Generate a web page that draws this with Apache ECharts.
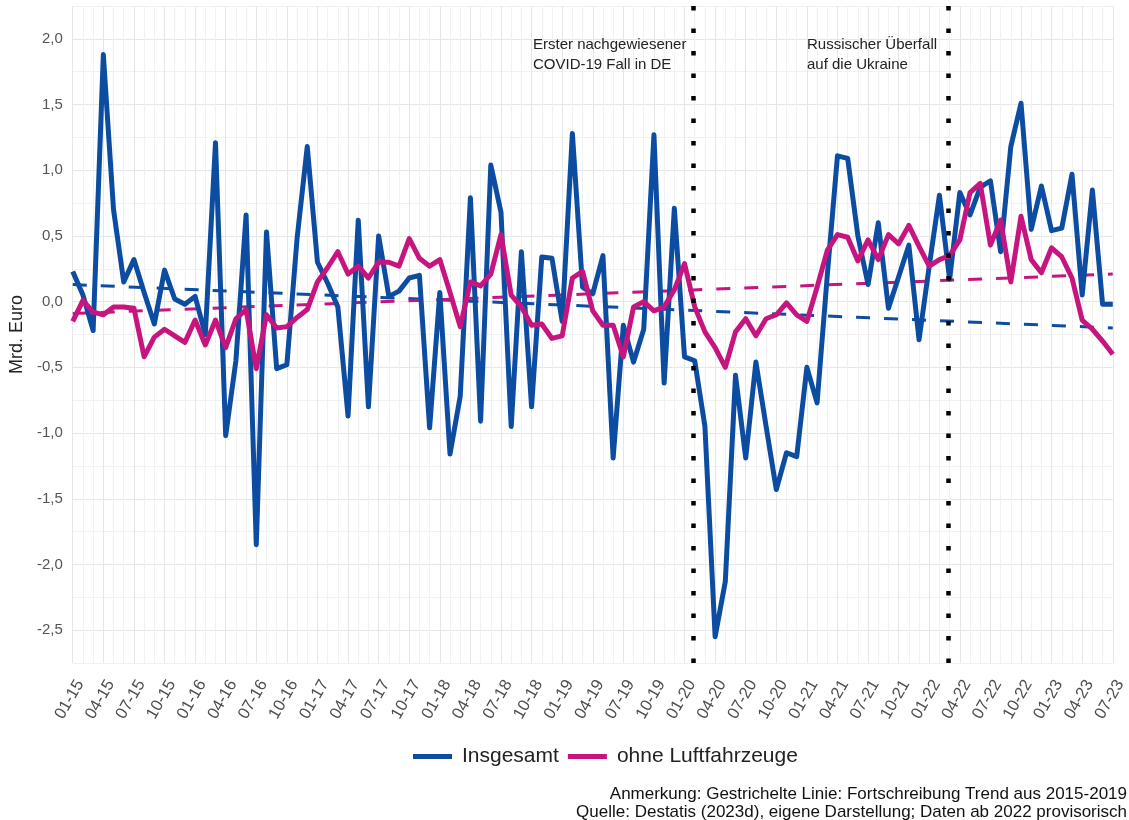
<!DOCTYPE html>
<html>
<head>
<meta charset="utf-8">
<script src="https://cdn.jsdelivr.net/npm/echarts@6/dist/echarts.min.js"></script>
<style>
  html, body { margin: 0; padding: 0; background: #fff; }
  #chart { width: 1129px; height: 820px; }
</style>
</head>
<body>
<div id="chart"></div>
<script>
// x-axis tick labels, one every three months (01-15 ... 07-23)
const tickLabels = [
  '01-15', '04-15', '07-15', '10-15', '01-16', '04-16', '07-16', '10-16',
  '01-17', '04-17', '07-17', '10-17', '01-18', '04-18', '07-18', '10-18',
  '01-19', '04-19', '07-19', '10-19', '01-20', '04-20', '07-20', '10-20',
  '01-21', '04-21', '07-21', '10-21', '01-22', '04-22', '07-22', '10-22',
  '01-23', '04-23', '07-23'
]

// monthly values Jan 2015 .. Jul 2023, Mrd. Euro
const insgesamt = [
  0.23, 0.05, -0.22, 1.88, 0.70, 0.15, 0.32, 0.07, -0.17, 0.24, 0.02, -0.02,
  0.04, -0.25, 1.21, -1.02, -0.45, 0.66, -1.85, 0.53, -0.51, -0.48, 0.48, 1.18,
  0.30, 0.14, -0.04, -0.87, 0.62, -0.80, 0.50, 0.04, 0.08, 0.18, 0.20, -0.96,
  0.07, -1.16, -0.72, 0.79, -0.91, 1.04, 0.68, -0.95, 0.38, -0.80, 0.34, 0.33,
  -0.15, 1.28, 0.11, 0.06, 0.35, -1.19, -0.18, -0.46, -0.21, 1.27, -0.62, 0.71,
  -0.42, -0.45, -0.95, -2.55, -2.13, -0.56, -1.19, -0.46, -0.95, -1.43, -1.15, -1.18,
  -0.50, -0.77, 0.20, 1.11, 1.09, 0.50, 0.13, 0.60, -0.05, 0.19, 0.43, -0.29,
  0.27, 0.81, 0.17, 0.83, 0.66, 0.87, 0.92, 0.38, 1.18, 1.51, 0.55, 0.88,
  0.54, 0.56, 0.97, 0.05, 0.85, -0.02, -0.02
]
const ohneLuftfahrzeuge = [
  -0.15, 0.01, -0.08, -0.10, -0.04, -0.04, -0.05, -0.42, -0.27, -0.21, -0.26, -0.31,
  -0.14, -0.33, -0.14, -0.35, -0.13, -0.06, -0.51, -0.10, -0.20, -0.19, -0.12, -0.06,
  0.15, 0.26, 0.38, 0.21, 0.27, 0.18, 0.30, 0.30, 0.27, 0.48, 0.33, 0.27,
  0.32, 0.07, -0.19, 0.15, 0.12, 0.21, 0.51, 0.05, -0.04, -0.18, -0.17, -0.28,
  -0.26, 0.18, 0.23, -0.07, -0.18, -0.18, -0.42, -0.04, 0.00, -0.07, -0.04, 0.09,
  0.29, -0.04, -0.23, -0.35, -0.50, -0.23, -0.13, -0.26, -0.13, -0.10, -0.01, -0.10,
  -0.15, 0.11, 0.39, 0.51, 0.49, 0.31, 0.47, 0.32, 0.51, 0.44, 0.58, 0.42,
  0.27, 0.32, 0.35, 0.47, 0.83, 0.90, 0.43, 0.62, 0.15, 0.65, 0.32, 0.22,
  0.41, 0.34, 0.18, -0.14, -0.21, -0.30, -0.40
]

// trend 2015-2019 carried forward: value at first and last month
const trendInsgesamt = [0.13, -0.20]
const trendOhne = [-0.09, 0.21]

// events: [year, month, day]
const eventCovid = [2020, 1, 27]
const eventUkraine = [2022, 2, 24]

const BLUE = '#0C4DA2'
const PINK = '#C7157F'
const FONT = 'Liberation Sans, Arial, sans-serif'

const lastIdx = insgesamt.length - 1
const toPairs = arr => arr.map((v, i) => [i, v])
const trendPairs = t => [[0, t[0]], [lastIdx, t[1]]]
function monthIndex(ev) {
  const days = new Date(ev[0], ev[1], 0).getDate()
  return (ev[0] - 2015) * 12 + (ev[1] - 1) + (ev[2] - 1) / days
}

const chart = echarts.init(document.getElementById('chart'))

chart.setOption({
  animation: false,
  textStyle: { fontFamily: FONT },
  grid: { left: 72, right: 14, top: 6, bottom: 157, containLabel: false },
  xAxis: {
    type: 'value',
    min: 0,
    max: lastIdx,
    interval: 3,
    axisLine: { show: false },
    axisTick: { show: false },
    axisLabel: {
      rotate: 60,
      fontSize: 16.5,
      color: '#4d4d4d',
      margin: 14,
      align: 'right',
      verticalAlign: 'top',
      formatter: v => tickLabels[Math.round(v / 3)] || ''
    },
    splitLine: { show: true, lineStyle: { color: '#e6e6e6', width: 1 } },
    minorTick: { show: false, splitNumber: 3 },
    minorSplitLine: { show: true, lineStyle: { color: '#f1f1f1', width: 1 } }
  },
  yAxis: {
    type: 'value',
    min: -2.75,
    max: 2.25,
    interval: 0.25,
    name: 'Mrd. Euro',
    nameLocation: 'middle',
    nameGap: 42,
    nameTextStyle: { fontSize: 18, color: '#222' },
    axisLine: { show: false },
    axisTick: { show: false },
    axisLabel: {
      fontSize: 15,
      color: '#555',
      margin: 10,
      formatter: v => {
        const r = Math.round(v * 100) / 100
        if (Math.abs(r * 2 - Math.round(r * 2)) > 1e-6) return ''
        return r.toFixed(1).replace('.', ',')
      }
    },
    splitLine: { show: true, lineStyle: { color: ['#f1f1f1', '#e6e6e6'], width: 1 } }
  },
  legend: {
    top: 746,
    left: 413,
    padding: 0,
    itemWidth: 39,
    itemHeight: 5,
    itemGap: 9,
    icon: 'rect',
    textStyle: { fontSize: 21, color: '#222', padding: [0, 0, 0, 5] },
    data: ['Insgesamt', 'ohne Luftfahrzeuge']
  },
  series: [
    {
      name: 'Insgesamt trend',
      type: 'line',
      data: trendPairs(trendInsgesamt),
      showSymbol: false,
      silent: true,
      lineStyle: { color: BLUE, width: 3, type: [14, 14] },
      z: 2
    },
    {
      name: 'ohne trend',
      type: 'line',
      data: trendPairs(trendOhne),
      showSymbol: false,
      silent: true,
      lineStyle: { color: PINK, width: 3, type: [14, 14] },
      z: 2
    },
    {
      name: 'Insgesamt',
      type: 'line',
      data: toPairs(insgesamt),
      showSymbol: false,
      itemStyle: { color: BLUE },
      lineStyle: { color: BLUE, width: 5, join: 'round' },
      z: 3
    },
    {
      name: 'ohne Luftfahrzeuge',
      type: 'line',
      data: toPairs(ohneLuftfahrzeuge),
      showSymbol: false,
      itemStyle: { color: PINK },
      lineStyle: { color: PINK, width: 5, join: 'round' },
      z: 4,
      markLine: {
        silent: true,
        symbol: ['none', 'none'],
        label: { show: false },
        lineStyle: { color: '#000', width: 4.5, type: [4.5, 18], cap: 'butt' },
        data: [
          { xAxis: monthIndex(eventCovid) },
          { xAxis: monthIndex(eventUkraine) }
        ]
      }
    }
  ],
  graphic: [
    {
      type: 'text', left: 533, top: 35, z: 100,
      style: { text: 'Erster nachgewiesener\nCOVID-19 Fall in DE', font: '15px ' + FONT, fill: '#222', lineHeight: 20 }
    },
    {
      type: 'text', left: 807, top: 35, z: 100,
      style: { text: 'Russischer Überfall\nauf die Ukraine', font: '15px ' + FONT, fill: '#222', lineHeight: 20 }
    },
    {
      type: 'text', right: 2, top: 786, z: 100,
      style: { text: 'Anmerkung: Gestrichelte Linie: Fortschreibung Trend aus 2015-2019', font: '17px ' + FONT, fill: '#111' }
    },
    {
      type: 'text', right: 2, top: 804, z: 100,
      style: { text: 'Quelle: Destatis (2023d), eigene Darstellung; Daten ab 2022 provisorisch', font: '17px ' + FONT, fill: '#111' }
    }
  ]
})
</script>
</body>
</html>
